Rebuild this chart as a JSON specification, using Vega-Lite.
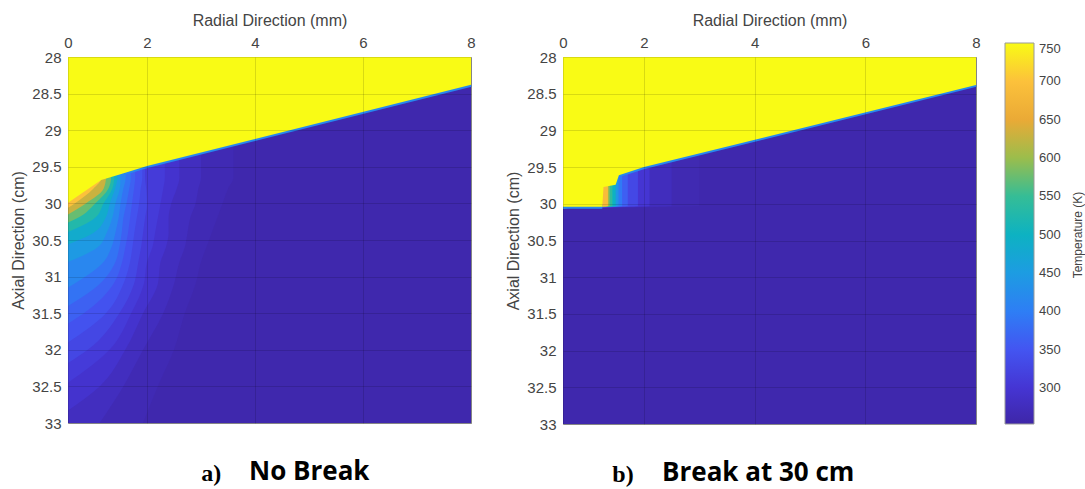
{
"$schema": "https://vega.github.io/schema/vega-lite/v6.json",
"background": "white",
"padding": {"left": 10, "top": 11, "right": 0, "bottom": 6},
"config": {
 "view": {"stroke": "#999"},
 "axis": {"labelFont": "Liberation Sans", "labelFontSize": 15, "labelColor": "#444", "titleFont": "Liberation Sans", "titleFontSize": 16, "titleFontWeight": "normal", "titleColor": "#444", "gridColor": "#000", "gridOpacity": 0.13, "labelFlush": false, "labelOverlap": false}
},
"datasets": {
 "a_iso": [
  {"L":0,"T":258,"y":28,"g":8},{"L":0,"T":258,"y":33,"g":8},
  {"L":268,"T":266,"y":28,"g":3.6},{"L":268,"T":266,"y":29.65,"g":3.6},{"L":268,"T":266,"y":29.8,"g":3.5},{"L":268,"T":266,"y":30,"g":3.4},{"L":268,"T":266,"y":30.2,"g":3.3},{"L":268,"T":266,"y":30.4,"g":3.2},{"L":268,"T":266,"y":30.6,"g":3.1},{"L":268,"T":266,"y":30.8,"g":3.0},{"L":268,"T":266,"y":31.1,"g":2.9},{"L":268,"T":266,"y":31.5,"g":2.7},{"L":268,"T":266,"y":32,"g":2.5},{"L":268,"T":266,"y":32.5,"g":2.2},{"L":268,"T":266,"y":33,"g":1.9},
  {"L":280,"T":278,"y":28,"g":3.0},{"L":280,"T":278,"y":29.65,"g":3.0},{"L":280,"T":278,"y":29.8,"g":2.95},{"L":280,"T":278,"y":30,"g":2.9},{"L":280,"T":278,"y":30.2,"g":2.8},{"L":280,"T":278,"y":30.4,"g":2.75},{"L":280,"T":278,"y":30.6,"g":2.7},{"L":280,"T":278,"y":30.8,"g":2.6},{"L":280,"T":278,"y":31.1,"g":2.5},{"L":280,"T":278,"y":31.5,"g":2.3},{"L":280,"T":278,"y":32,"g":1.9},{"L":280,"T":278,"y":32.5,"g":1.4},{"L":280,"T":278,"y":33,"g":0.8},
  {"L":292,"T":294,"y":28,"g":2.6},{"L":292,"T":294,"y":29.65,"g":2.6},{"L":292,"T":294,"y":29.8,"g":2.55},{"L":292,"T":294,"y":30,"g":2.45},{"L":292,"T":294,"y":30.2,"g":2.4},{"L":292,"T":294,"y":30.4,"g":2.4},{"L":292,"T":294,"y":30.6,"g":2.35},{"L":292,"T":294,"y":30.8,"g":2.25},{"L":292,"T":294,"y":31.1,"g":2.2},{"L":292,"T":294,"y":31.5,"g":1.9},{"L":292,"T":294,"y":32,"g":1.45},{"L":292,"T":294,"y":32.5,"g":0.8},{"L":292,"T":294,"y":32.83,"g":0},
  {"L":305,"T":310,"y":28,"g":2.33},{"L":305,"T":310,"y":29.65,"g":2.33},{"L":305,"T":310,"y":29.8,"g":2.3},{"L":305,"T":310,"y":30,"g":2.25},{"L":305,"T":310,"y":30.2,"g":2.2},{"L":305,"T":310,"y":30.4,"g":2.15},{"L":305,"T":310,"y":30.6,"g":2.1},{"L":305,"T":310,"y":30.8,"g":2.0},{"L":305,"T":310,"y":31.1,"g":1.92},{"L":305,"T":310,"y":31.5,"g":1.6},{"L":305,"T":310,"y":32,"g":1.05},{"L":305,"T":310,"y":32.45,"g":0},
  {"L":320,"T":328,"y":28,"g":1.95},{"L":320,"T":328,"y":29.65,"g":1.95},{"L":320,"T":328,"y":29.8,"g":1.98},{"L":320,"T":328,"y":30,"g":2.0},{"L":320,"T":328,"y":30.2,"g":1.95},{"L":320,"T":328,"y":30.4,"g":1.9},{"L":320,"T":328,"y":30.6,"g":1.85},{"L":320,"T":328,"y":30.8,"g":1.78},{"L":320,"T":328,"y":31.1,"g":1.67},{"L":320,"T":328,"y":31.5,"g":1.3},{"L":320,"T":328,"y":32,"g":0.5},{"L":320,"T":328,"y":32.18,"g":0},
  {"L":337,"T":346,"y":28,"g":1.88},{"L":337,"T":346,"y":29.65,"g":1.88},{"L":337,"T":346,"y":29.8,"g":1.84},{"L":337,"T":346,"y":30,"g":1.8},{"L":337,"T":346,"y":30.2,"g":1.74},{"L":337,"T":346,"y":30.4,"g":1.68},{"L":337,"T":346,"y":30.6,"g":1.63},{"L":337,"T":346,"y":30.8,"g":1.57},{"L":337,"T":346,"y":31.1,"g":1.4},{"L":337,"T":346,"y":31.5,"g":0.96},{"L":337,"T":346,"y":31.9,"g":0},
  {"L":355,"T":365,"y":28,"g":1.7},{"L":355,"T":365,"y":29.65,"g":1.7},{"L":355,"T":365,"y":29.8,"g":1.67},{"L":355,"T":365,"y":30,"g":1.62},{"L":355,"T":365,"y":30.2,"g":1.57},{"L":355,"T":365,"y":30.4,"g":1.52},{"L":355,"T":365,"y":30.6,"g":1.45},{"L":355,"T":365,"y":30.8,"g":1.37},{"L":355,"T":365,"y":31.1,"g":1.15},{"L":355,"T":365,"y":31.5,"g":0.4},{"L":355,"T":365,"y":31.64,"g":0},
  {"L":375,"T":387,"y":28,"g":1.59},{"L":375,"T":387,"y":29.65,"g":1.59},{"L":375,"T":387,"y":29.8,"g":1.55},{"L":375,"T":387,"y":30,"g":1.48},{"L":375,"T":387,"y":30.2,"g":1.4},{"L":375,"T":387,"y":30.4,"g":1.36},{"L":375,"T":387,"y":30.6,"g":1.3},{"L":375,"T":387,"y":30.8,"g":1.2},{"L":375,"T":387,"y":31.1,"g":0.8},{"L":375,"T":387,"y":31.4,"g":0},
  {"L":400,"T":415,"y":28,"g":1.46},{"L":400,"T":415,"y":29.65,"g":1.46},{"L":400,"T":415,"y":29.8,"g":1.4},{"L":400,"T":415,"y":30,"g":1.33},{"L":400,"T":415,"y":30.2,"g":1.28},{"L":400,"T":415,"y":30.4,"g":1.2},{"L":400,"T":415,"y":30.6,"g":1.1},{"L":400,"T":415,"y":30.8,"g":0.9},{"L":400,"T":415,"y":31.1,"g":0.15},{"L":400,"T":415,"y":31.15,"g":0},
  {"L":430,"T":447,"y":28,"g":1.33},{"L":430,"T":447,"y":29.65,"g":1.33},{"L":430,"T":447,"y":29.8,"g":1.31},{"L":430,"T":447,"y":30,"g":1.2},{"L":430,"T":447,"y":30.2,"g":1.12},{"L":430,"T":447,"y":30.4,"g":0.98},{"L":430,"T":447,"y":30.6,"g":0.75},{"L":430,"T":447,"y":30.8,"g":0},
  {"L":465,"T":485,"y":28,"g":1.25},{"L":465,"T":485,"y":29.65,"g":1.25},{"L":465,"T":485,"y":29.8,"g":1.19},{"L":465,"T":485,"y":30,"g":1.06},{"L":465,"T":485,"y":30.2,"g":0.95},{"L":465,"T":485,"y":30.4,"g":0.65},{"L":465,"T":485,"y":30.56,"g":0},
  {"L":505,"T":527,"y":28,"g":1.17},{"L":505,"T":527,"y":29.65,"g":1.17},{"L":505,"T":527,"y":29.8,"g":1.12},{"L":505,"T":527,"y":30,"g":0.9},{"L":505,"T":527,"y":30.2,"g":0.68},{"L":505,"T":527,"y":30.39,"g":0},
  {"L":550,"T":575,"y":28,"g":1.09},{"L":550,"T":575,"y":29.65,"g":1.09},{"L":550,"T":575,"y":29.8,"g":1.02},{"L":550,"T":575,"y":30,"g":0.69},{"L":550,"T":575,"y":30.2,"g":0.24},{"L":550,"T":575,"y":30.26,"g":0},
  {"L":600,"T":630,"y":28,"g":0.96},{"L":600,"T":630,"y":29.65,"g":0.96},{"L":600,"T":630,"y":29.8,"g":0.9},{"L":600,"T":630,"y":30,"g":0.45},{"L":600,"T":630,"y":30.15,"g":0},
  {"L":660,"T":700,"y":28,"g":0.85},{"L":660,"T":700,"y":29.65,"g":0.85},{"L":660,"T":700,"y":29.8,"g":0.64},{"L":660,"T":700,"y":30,"g":0.17},{"L":660,"T":700,"y":30.06,"g":0}
 ],
 "a_bd": [
  {"x":0,"y":29.99,"T":750},{"x":0.84,"y":29.68,"T":750},{"x":1.39,"y":29.59,"T":750},{"x":2,"y":29.49,"T":750},{"x":8,"y":28.38,"T":750}
 ],
 "a_edge": [
  {"seg":1,"x":1.39,"y":29.59},{"seg":1,"x":2,"y":29.49},{"seg":1,"x":8,"y":28.38}
 ],
 "b_iso": [
  {"L":0,"T":258,"y":28,"g":8},{"L":0,"T":258,"y":33,"g":8},
  {"L":266,"T":264,"y":28,"g":3.0},{"L":266,"T":264,"y":30.03,"g":3.0},{"L":266,"T":264,"y":30.06,"g":0},
  {"L":280,"T":276,"y":28,"g":2.5},{"L":280,"T":276,"y":30.03,"g":2.5},{"L":280,"T":276,"y":30.06,"g":0},
  {"L":300,"T":300,"y":28,"g":2.1},{"L":300,"T":300,"y":30.03,"g":2.1},{"L":300,"T":300,"y":30.06,"g":0},
  {"L":325,"T":330,"y":28,"g":1.85},{"L":325,"T":330,"y":30.03,"g":1.85},{"L":325,"T":330,"y":30.06,"g":0},
  {"L":350,"T":362,"y":28,"g":1.6},{"L":350,"T":362,"y":30.03,"g":1.6},{"L":350,"T":362,"y":30.06,"g":0},
  {"L":380,"T":395,"y":28,"g":1.46},{"L":380,"T":395,"y":30.03,"g":1.46},{"L":380,"T":395,"y":30.06,"g":0},
  {"L":420,"T":440,"y":28,"g":1.37},{"L":420,"T":440,"y":30.03,"g":1.37},{"L":420,"T":440,"y":30.06,"g":0},
  {"L":470,"T":500,"y":28,"g":1.3},{"L":470,"T":500,"y":30.03,"g":1.3},{"L":470,"T":500,"y":30.06,"g":0},
  {"L":520,"T":545,"y":28,"g":1.22},{"L":520,"T":545,"y":30.03,"g":1.22},{"L":520,"T":545,"y":30.06,"g":0},
  {"L":570,"T":600,"y":28,"g":1.15},{"L":570,"T":600,"y":30.03,"g":1.15},{"L":570,"T":600,"y":30.06,"g":0},
  {"L":640,"T":690,"y":28,"g":1.11},{"L":640,"T":690,"y":30.03,"g":1.11},{"L":640,"T":690,"y":30.06,"g":0}
 ],
 "b_bd": [
  {"x":0,"y":30.04,"T":750},{"x":0.97,"y":30.04,"T":750},{"x":1.0,"y":29.77,"T":750},{"x":1.3,"y":29.74,"T":750},{"x":1.38,"y":29.61,"T":750},{"x":2,"y":29.5,"T":750},{"x":8,"y":28.38,"T":750}
 ],
 "b_edge": [
  {"seg":1,"x":0,"y":30.04},{"seg":1,"x":0.97,"y":30.04},
  {"seg":2,"x":1.38,"y":29.61},{"seg":2,"x":2,"y":29.5},{"seg":2,"x":8,"y":28.38}
 ]
},
"resolve": {"scale": {"x": "independent", "y": "independent", "fill": "shared"}},
"spacing": 25,
"hconcat": [
 {
  "title": {"text": "a)", "orient": "bottom", "anchor": "start", "dx": 191, "dy": -5, "offset": 0, "baseline": "alphabetic", "font": "Liberation Serif", "fontWeight": "bold", "fontSize": 24, "color": "#000"},
  "vconcat": [
   {
    "width": 403, "height": 366,
    "title": {"text": "No Break", "orient": "bottom", "anchor": "start", "frame": "group", "dx": 181, "offset": 49, "baseline": "alphabetic", "font": "Open Sans", "fontWeight": "bold", "fontSize": 26, "color": "#000"},
    "layer": [
     {"data": {"name": "a_iso"},
      "mark": {"type": "area", "orient": "horizontal", "interpolate": "monotone"},
      "encoding": {
       "y": {"field": "y", "type": "quantitative", "scale": {"domain": [28, 33], "reverse": true, "nice": false, "zero": false}, "axis": {"title": "Axial Direction (cm)", "values": [28, 28.5, 29, 29.5, 30, 30.5, 31, 31.5, 32, 32.5, 33], "tickCount": 20, "format": "~g", "labelPadding": 7, "titlePadding": 5, "grid": true, "ticks": false, "domain": false, "zindex": 1}},
       "x": {"field": "g", "type": "quantitative", "scale": {"domain": [0, 2, 8], "range": [0, 79, 403], "nice": false, "zero": false}, "axis": {"orient": "top", "title": "Radial Direction (mm)", "values": [0, 2, 4, 6, 8], "tickCount": 10, "labelPadding": 7, "titlePadding": 7, "grid": true, "ticks": false, "domain": false, "zindex": 1}},
       "x2": {"datum": 0},
       "detail": {"field": "L", "type": "quantitative"},
       "fill": {"field": "T", "type": "quantitative",
        "scale": {"type": "linear", "domain": [253, 300, 350, 400, 450, 500, 550, 600, 650, 700, 750], "range": ["#3e26a8", "#4535d3", "#4355f1", "#2e7ef5", "#1d9ce2", "#0db2c2", "#35bd96", "#9bbd4c", "#eaaa36", "#fcc13b", "#f9fb15"], "interpolate": "rgb", "clamp": true},
        "legend": {"type": "gradient", "orient": "none", "legendX": 937, "legendY": -14, "direction": "vertical", "gradientLength": 381, "gradientThickness": 29, "title": null, "tickCount": 10, "labelFont": "Liberation Sans", "labelFontSize": 13, "labelColor": "#444", "labelOffset": 5, "gradientStrokeColor": "#999", "gradientStrokeWidth": 1, "padding": 0, "labelOverlap": false}}
      }},
     {"data": {"name": "a_edge"},
      "mark": {"type": "line", "strokeWidth": 4, "color": "#2788ee"},
      "encoding": {
       "x": {"field": "x", "type": "quantitative"},
       "y": {"field": "y", "type": "quantitative"},
       "detail": {"field": "seg", "type": "nominal"}
      }},
     {"data": {"name": "a_bd"},
      "mark": {"type": "area", "orient": "vertical"},
      "encoding": {
       "x": {"field": "x", "type": "quantitative"},
       "y": {"field": "y", "type": "quantitative"},
       "y2": {"datum": 28},
       "fill": {"field": "T", "type": "quantitative"}
      }}
    ]
   }
  ]
 },
 {
  "resolve": {"scale": {"x": "independent", "y": "independent", "fill": "shared"}},
  "spacing": 86,
  "hconcat": [
   {
    "title": {"text": "b)", "orient": "bottom", "anchor": "start", "dx": 107, "dy": -5, "offset": 0, "baseline": "alphabetic", "font": "Liberation Serif", "fontWeight": "bold", "fontSize": 24, "color": "#000"},
    "vconcat": [
     {
      "width": 413, "height": 367,
      "title": {"text": "Break at 30 cm", "orient": "bottom", "anchor": "start", "frame": "group", "dx": 99, "offset": 49, "baseline": "alphabetic", "font": "Open Sans", "fontWeight": "bold", "fontSize": 26, "color": "#000"},
      "layer": [
       {"data": {"name": "b_iso"},
        "mark": {"type": "area", "orient": "horizontal", "interpolate": "monotone"},
        "encoding": {
         "y": {"field": "y", "type": "quantitative", "scale": {"domain": [28, 33], "reverse": true, "nice": false, "zero": false}, "axis": {"title": "Axial Direction (cm)", "values": [28, 28.5, 29, 29.5, 30, 30.5, 31, 31.5, 32, 32.5, 33], "tickCount": 20, "format": "~g", "labelPadding": 7, "titlePadding": 5, "grid": true, "ticks": false, "domain": false, "zindex": 1}},
         "x": {"field": "g", "type": "quantitative", "scale": {"domain": [0, 2, 8], "range": [0, 81, 413], "nice": false, "zero": false}, "axis": {"orient": "top", "title": "Radial Direction (mm)", "values": [0, 2, 4, 6, 8], "tickCount": 10, "labelPadding": 7, "titlePadding": 7, "grid": true, "ticks": false, "domain": false, "zindex": 1}},
         "x2": {"datum": 0},
         "detail": {"field": "L", "type": "quantitative"},
         "fill": {"field": "T", "type": "quantitative"}
        }},
       {"data": {"name": "b_edge"},
        "mark": {"type": "line", "strokeWidth": 4, "color": "#2788ee"},
        "encoding": {
         "x": {"field": "x", "type": "quantitative"},
         "y": {"field": "y", "type": "quantitative"},
         "detail": {"field": "seg", "type": "nominal"}
        }},
       {"data": {"name": "b_bd"},
        "mark": {"type": "area", "orient": "vertical"},
        "encoding": {
         "x": {"field": "x", "type": "quantitative"},
         "y": {"field": "y", "type": "quantitative"},
         "y2": {"datum": 28},
         "fill": {"field": "T", "type": "quantitative"}
        }}
      ]
     }
    ]
   },
   {
    "width": 14, "height": 356,
    "view": {"stroke": null},
    "data": {"values": [{"label": "Temperature (K)"}]},
    "mark": {"type": "text", "angle": -90, "font": "Liberation Sans", "fontSize": 12, "color": "#444"},
    "encoding": {"text": {"field": "label", "type": "nominal"}}
   }
  ]
 }
]
}
